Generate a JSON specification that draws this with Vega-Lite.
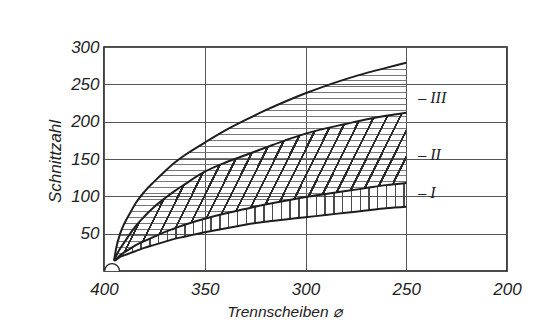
{
  "$schema": "https://vega.github.io/schema/vega-lite/v6.json",
  "width": 403,
  "height": 224,
  "autosize": {"type": "none"},
  "padding": {"left": 104, "top": 47, "right": 29, "bottom": 49},
  "background": "#ffffff",
  "config": {
    "view": {"stroke": "#111111", "strokeWidth": 1.6},
    "axis": {
      "domain": false,
      "ticks": false,
      "tickSize": 0,
      "grid": true,
      "gridColor": "#555555",
      "gridWidth": 1,
      "gridOpacity": 1,
      "labelFont": "Liberation Sans",
      "labelFontStyle": "italic",
      "labelFontSize": 17,
      "labelColor": "#222222",
      "labelFlush": false,
      "labelOverlap": false,
      "titleFont": "Liberation Sans",
      "titleFontStyle": "italic",
      "titleFontWeight": "normal",
      "titleColor": "#222222"
    }
  },
  "datasets": {
    "curves": [
      {"x": 395, "top": 14, "ii": 14, "i": 14, "bot": 14},
      {"x": 394, "top": 30, "ii": 20, "i": 16, "bot": 15},
      {"x": 392, "top": 50, "ii": 30, "i": 21, "bot": 19},
      {"x": 390, "top": 63, "ii": 38, "i": 25, "bot": 21},
      {"x": 387, "top": 78, "ii": 50, "i": 30, "bot": 24},
      {"x": 384, "top": 92, "ii": 61, "i": 35, "bot": 27},
      {"x": 380, "top": 106, "ii": 73, "i": 40, "bot": 31},
      {"x": 375, "top": 120, "ii": 86, "i": 46, "bot": 35},
      {"x": 370, "top": 133, "ii": 97, "i": 52, "bot": 39},
      {"x": 365, "top": 145, "ii": 107, "i": 57, "bot": 43},
      {"x": 360, "top": 155, "ii": 116, "i": 62, "bot": 46},
      {"x": 350, "top": 172, "ii": 133, "i": 70, "bot": 52},
      {"x": 340, "top": 188, "ii": 145, "i": 77, "bot": 57},
      {"x": 330, "top": 202, "ii": 155, "i": 83, "bot": 62},
      {"x": 320, "top": 215, "ii": 165, "i": 89, "bot": 66},
      {"x": 310, "top": 227, "ii": 175, "i": 94, "bot": 69},
      {"x": 300, "top": 238, "ii": 184, "i": 99, "bot": 72},
      {"x": 290, "top": 248, "ii": 191, "i": 103, "bot": 75},
      {"x": 280, "top": 257, "ii": 197, "i": 107, "bot": 78},
      {"x": 270, "top": 265, "ii": 203, "i": 111, "bot": 81},
      {"x": 260, "top": 272, "ii": 208, "i": 115, "bot": 84},
      {"x": 250, "top": 279, "ii": 212, "i": 118, "bot": 86}
    ],
    "labels": [
      {"x": 250, "y": 232, "t": "– III"},
      {"x": 250, "y": 155, "t": "– II"},
      {"x": 250, "y": 105, "t": "– I"}
    ],
    "origin": [{"x": 396, "y": 0}]
  },
  "encoding": {
    "x": {
      "field": "x",
      "type": "quantitative",
      "scale": {"domain": [200, 400], "reverse": true},
      "axis": {
        "values": [400, 350, 300, 250, 200],
        "labelPadding": 10,
        "title": "Trennscheiben ⌀",
        "titleFontSize": 15.5,
        "titleX": 180,
        "titleY": 45,
        "titleAlign": "center",
        "titleBaseline": "alphabetic"
      }
    }
  },
  "layer": [
    {
      "data": {"name": "curves"},
      "mark": {
        "type": "area",
        "interpolate": "monotone",
        "fill": {
          "gradient": "linear", "x1": 0, "y1": 0, "x2": 0, "y2": 1,
          "stops": [
            {"offset": 0.03, "color": "rgba(0,0,0,0)"}, {"offset": 0.03, "color": "#777777"}, {"offset": 0.035, "color": "#777777"}, {"offset": 0.035, "color": "rgba(0,0,0,0)"},
            {"offset": 0.06, "color": "rgba(0,0,0,0)"}, {"offset": 0.06, "color": "#777777"}, {"offset": 0.065, "color": "#777777"}, {"offset": 0.065, "color": "rgba(0,0,0,0)"},
            {"offset": 0.09, "color": "rgba(0,0,0,0)"}, {"offset": 0.09, "color": "#777777"}, {"offset": 0.095, "color": "#777777"}, {"offset": 0.095, "color": "rgba(0,0,0,0)"},
            {"offset": 0.12, "color": "rgba(0,0,0,0)"}, {"offset": 0.12, "color": "#777777"}, {"offset": 0.125, "color": "#777777"}, {"offset": 0.125, "color": "rgba(0,0,0,0)"},
            {"offset": 0.15, "color": "rgba(0,0,0,0)"}, {"offset": 0.15, "color": "#777777"}, {"offset": 0.155, "color": "#777777"}, {"offset": 0.155, "color": "rgba(0,0,0,0)"},
            {"offset": 0.18, "color": "rgba(0,0,0,0)"}, {"offset": 0.18, "color": "#777777"}, {"offset": 0.185, "color": "#777777"}, {"offset": 0.185, "color": "rgba(0,0,0,0)"},
            {"offset": 0.21, "color": "rgba(0,0,0,0)"}, {"offset": 0.21, "color": "#777777"}, {"offset": 0.215, "color": "#777777"}, {"offset": 0.215, "color": "rgba(0,0,0,0)"},
            {"offset": 0.24, "color": "rgba(0,0,0,0)"}, {"offset": 0.24, "color": "#777777"}, {"offset": 0.245, "color": "#777777"}, {"offset": 0.245, "color": "rgba(0,0,0,0)"},
            {"offset": 0.27, "color": "rgba(0,0,0,0)"}, {"offset": 0.27, "color": "#777777"}, {"offset": 0.275, "color": "#777777"}, {"offset": 0.275, "color": "rgba(0,0,0,0)"},
            {"offset": 0.3, "color": "rgba(0,0,0,0)"}, {"offset": 0.3, "color": "#777777"}, {"offset": 0.305, "color": "#777777"}, {"offset": 0.305, "color": "rgba(0,0,0,0)"},
            {"offset": 0.33, "color": "rgba(0,0,0,0)"}, {"offset": 0.33, "color": "#777777"}, {"offset": 0.335, "color": "#777777"}, {"offset": 0.335, "color": "rgba(0,0,0,0)"},
            {"offset": 0.36, "color": "rgba(0,0,0,0)"}, {"offset": 0.36, "color": "#777777"}, {"offset": 0.365, "color": "#777777"}, {"offset": 0.365, "color": "rgba(0,0,0,0)"},
            {"offset": 0.39, "color": "rgba(0,0,0,0)"}, {"offset": 0.39, "color": "#777777"}, {"offset": 0.395, "color": "#777777"}, {"offset": 0.395, "color": "rgba(0,0,0,0)"},
            {"offset": 0.42, "color": "rgba(0,0,0,0)"}, {"offset": 0.42, "color": "#777777"}, {"offset": 0.425, "color": "#777777"}, {"offset": 0.425, "color": "rgba(0,0,0,0)"},
            {"offset": 0.45, "color": "rgba(0,0,0,0)"}, {"offset": 0.45, "color": "#777777"}, {"offset": 0.455, "color": "#777777"}, {"offset": 0.455, "color": "rgba(0,0,0,0)"},
            {"offset": 0.48, "color": "rgba(0,0,0,0)"}, {"offset": 0.48, "color": "#777777"}, {"offset": 0.485, "color": "#777777"}, {"offset": 0.485, "color": "rgba(0,0,0,0)"},
            {"offset": 0.51, "color": "rgba(0,0,0,0)"}, {"offset": 0.51, "color": "#777777"}, {"offset": 0.515, "color": "#777777"}, {"offset": 0.515, "color": "rgba(0,0,0,0)"},
            {"offset": 0.54, "color": "rgba(0,0,0,0)"}, {"offset": 0.54, "color": "#777777"}, {"offset": 0.545, "color": "#777777"}, {"offset": 0.545, "color": "rgba(0,0,0,0)"},
            {"offset": 0.57, "color": "rgba(0,0,0,0)"}, {"offset": 0.57, "color": "#777777"}, {"offset": 0.575, "color": "#777777"}, {"offset": 0.575, "color": "rgba(0,0,0,0)"},
            {"offset": 0.6, "color": "rgba(0,0,0,0)"}, {"offset": 0.6, "color": "#777777"}, {"offset": 0.605, "color": "#777777"}, {"offset": 0.605, "color": "rgba(0,0,0,0)"},
            {"offset": 0.63, "color": "rgba(0,0,0,0)"}, {"offset": 0.63, "color": "#777777"}, {"offset": 0.635, "color": "#777777"}, {"offset": 0.635, "color": "rgba(0,0,0,0)"},
            {"offset": 0.66, "color": "rgba(0,0,0,0)"}, {"offset": 0.66, "color": "#777777"}, {"offset": 0.665, "color": "#777777"}, {"offset": 0.665, "color": "rgba(0,0,0,0)"},
            {"offset": 0.69, "color": "rgba(0,0,0,0)"}, {"offset": 0.69, "color": "#777777"}, {"offset": 0.695, "color": "#777777"}, {"offset": 0.695, "color": "rgba(0,0,0,0)"},
            {"offset": 0.72, "color": "rgba(0,0,0,0)"}, {"offset": 0.72, "color": "#777777"}, {"offset": 0.725, "color": "#777777"}, {"offset": 0.725, "color": "rgba(0,0,0,0)"},
            {"offset": 0.75, "color": "rgba(0,0,0,0)"}, {"offset": 0.75, "color": "#777777"}, {"offset": 0.755, "color": "#777777"}, {"offset": 0.755, "color": "rgba(0,0,0,0)"},
            {"offset": 0.78, "color": "rgba(0,0,0,0)"}, {"offset": 0.78, "color": "#777777"}, {"offset": 0.785, "color": "#777777"}, {"offset": 0.785, "color": "rgba(0,0,0,0)"},
            {"offset": 0.81, "color": "rgba(0,0,0,0)"}, {"offset": 0.81, "color": "#777777"}, {"offset": 0.815, "color": "#777777"}, {"offset": 0.815, "color": "rgba(0,0,0,0)"},
            {"offset": 0.84, "color": "rgba(0,0,0,0)"}, {"offset": 0.84, "color": "#777777"}, {"offset": 0.845, "color": "#777777"}, {"offset": 0.845, "color": "rgba(0,0,0,0)"},
            {"offset": 0.87, "color": "rgba(0,0,0,0)"}, {"offset": 0.87, "color": "#777777"}, {"offset": 0.875, "color": "#777777"}, {"offset": 0.875, "color": "rgba(0,0,0,0)"},
            {"offset": 0.9, "color": "rgba(0,0,0,0)"}, {"offset": 0.9, "color": "#777777"}, {"offset": 0.905, "color": "#777777"}, {"offset": 0.905, "color": "rgba(0,0,0,0)"},
            {"offset": 0.93, "color": "rgba(0,0,0,0)"}, {"offset": 0.93, "color": "#777777"}, {"offset": 0.935, "color": "#777777"}, {"offset": 0.935, "color": "rgba(0,0,0,0)"},
            {"offset": 0.96, "color": "rgba(0,0,0,0)"}, {"offset": 0.96, "color": "#777777"}, {"offset": 0.965, "color": "#777777"}, {"offset": 0.965, "color": "rgba(0,0,0,0)"}
          ]
        }
      },
      "encoding": {
        "y": {
          "field": "top",
          "type": "quantitative",
          "scale": {"domain": [0, 300]},
          "title": "Schnittzahl",
          "axis": {
            "values": [50, 100, 150, 200, 250, 300],
            "labelPadding": 5,
            "titleFontSize": 17,
            "titleAngle": -90,
            "titleX": -44,
            "titleY": 114,
            "titleAlign": "center",
            "titleBaseline": "alphabetic"
          }
        },
        "y2": {"field": "i"}
      }
    },
    {
      "data": {"name": "curves"},
      "mark": {
        "type": "area",
        "interpolate": "monotone",
        "fill": {
          "gradient": "linear", "x1": 0, "y1": 0, "x2": 1.2, "y2": 0.3,
          "stops": [
            {"offset": 0.035, "color": "rgba(0,0,0,0)"}, {"offset": 0.035, "color": "#2a2a2a"}, {"offset": 0.041, "color": "#2a2a2a"}, {"offset": 0.041, "color": "rgba(0,0,0,0)"},
            {"offset": 0.07, "color": "rgba(0,0,0,0)"}, {"offset": 0.07, "color": "#2a2a2a"}, {"offset": 0.076, "color": "#2a2a2a"}, {"offset": 0.076, "color": "rgba(0,0,0,0)"},
            {"offset": 0.105, "color": "rgba(0,0,0,0)"}, {"offset": 0.105, "color": "#2a2a2a"}, {"offset": 0.111, "color": "#2a2a2a"}, {"offset": 0.111, "color": "rgba(0,0,0,0)"},
            {"offset": 0.14, "color": "rgba(0,0,0,0)"}, {"offset": 0.14, "color": "#2a2a2a"}, {"offset": 0.146, "color": "#2a2a2a"}, {"offset": 0.146, "color": "rgba(0,0,0,0)"},
            {"offset": 0.175, "color": "rgba(0,0,0,0)"}, {"offset": 0.175, "color": "#2a2a2a"}, {"offset": 0.181, "color": "#2a2a2a"}, {"offset": 0.181, "color": "rgba(0,0,0,0)"},
            {"offset": 0.21, "color": "rgba(0,0,0,0)"}, {"offset": 0.21, "color": "#2a2a2a"}, {"offset": 0.216, "color": "#2a2a2a"}, {"offset": 0.216, "color": "rgba(0,0,0,0)"},
            {"offset": 0.245, "color": "rgba(0,0,0,0)"}, {"offset": 0.245, "color": "#2a2a2a"}, {"offset": 0.251, "color": "#2a2a2a"}, {"offset": 0.251, "color": "rgba(0,0,0,0)"},
            {"offset": 0.28, "color": "rgba(0,0,0,0)"}, {"offset": 0.28, "color": "#2a2a2a"}, {"offset": 0.286, "color": "#2a2a2a"}, {"offset": 0.286, "color": "rgba(0,0,0,0)"},
            {"offset": 0.315, "color": "rgba(0,0,0,0)"}, {"offset": 0.315, "color": "#2a2a2a"}, {"offset": 0.321, "color": "#2a2a2a"}, {"offset": 0.321, "color": "rgba(0,0,0,0)"},
            {"offset": 0.35, "color": "rgba(0,0,0,0)"}, {"offset": 0.35, "color": "#2a2a2a"}, {"offset": 0.356, "color": "#2a2a2a"}, {"offset": 0.356, "color": "rgba(0,0,0,0)"},
            {"offset": 0.385, "color": "rgba(0,0,0,0)"}, {"offset": 0.385, "color": "#2a2a2a"}, {"offset": 0.391, "color": "#2a2a2a"}, {"offset": 0.391, "color": "rgba(0,0,0,0)"},
            {"offset": 0.42, "color": "rgba(0,0,0,0)"}, {"offset": 0.42, "color": "#2a2a2a"}, {"offset": 0.426, "color": "#2a2a2a"}, {"offset": 0.426, "color": "rgba(0,0,0,0)"},
            {"offset": 0.455, "color": "rgba(0,0,0,0)"}, {"offset": 0.455, "color": "#2a2a2a"}, {"offset": 0.461, "color": "#2a2a2a"}, {"offset": 0.461, "color": "rgba(0,0,0,0)"},
            {"offset": 0.49, "color": "rgba(0,0,0,0)"}, {"offset": 0.49, "color": "#2a2a2a"}, {"offset": 0.496, "color": "#2a2a2a"}, {"offset": 0.496, "color": "rgba(0,0,0,0)"},
            {"offset": 0.525, "color": "rgba(0,0,0,0)"}, {"offset": 0.525, "color": "#2a2a2a"}, {"offset": 0.531, "color": "#2a2a2a"}, {"offset": 0.531, "color": "rgba(0,0,0,0)"},
            {"offset": 0.56, "color": "rgba(0,0,0,0)"}, {"offset": 0.56, "color": "#2a2a2a"}, {"offset": 0.566, "color": "#2a2a2a"}, {"offset": 0.566, "color": "rgba(0,0,0,0)"},
            {"offset": 0.595, "color": "rgba(0,0,0,0)"}, {"offset": 0.595, "color": "#2a2a2a"}, {"offset": 0.601, "color": "#2a2a2a"}, {"offset": 0.601, "color": "rgba(0,0,0,0)"},
            {"offset": 0.63, "color": "rgba(0,0,0,0)"}, {"offset": 0.63, "color": "#2a2a2a"}, {"offset": 0.636, "color": "#2a2a2a"}, {"offset": 0.636, "color": "rgba(0,0,0,0)"},
            {"offset": 0.665, "color": "rgba(0,0,0,0)"}, {"offset": 0.665, "color": "#2a2a2a"}, {"offset": 0.671, "color": "#2a2a2a"}, {"offset": 0.671, "color": "rgba(0,0,0,0)"},
            {"offset": 0.7, "color": "rgba(0,0,0,0)"}, {"offset": 0.7, "color": "#2a2a2a"}, {"offset": 0.706, "color": "#2a2a2a"}, {"offset": 0.706, "color": "rgba(0,0,0,0)"},
            {"offset": 0.735, "color": "rgba(0,0,0,0)"}, {"offset": 0.735, "color": "#2a2a2a"}, {"offset": 0.741, "color": "#2a2a2a"}, {"offset": 0.741, "color": "rgba(0,0,0,0)"},
            {"offset": 0.77, "color": "rgba(0,0,0,0)"}, {"offset": 0.77, "color": "#2a2a2a"}, {"offset": 0.776, "color": "#2a2a2a"}, {"offset": 0.776, "color": "rgba(0,0,0,0)"},
            {"offset": 0.805, "color": "rgba(0,0,0,0)"}, {"offset": 0.805, "color": "#2a2a2a"}, {"offset": 0.811, "color": "#2a2a2a"}, {"offset": 0.811, "color": "rgba(0,0,0,0)"},
            {"offset": 0.84, "color": "rgba(0,0,0,0)"}, {"offset": 0.84, "color": "#2a2a2a"}, {"offset": 0.846, "color": "#2a2a2a"}, {"offset": 0.846, "color": "rgba(0,0,0,0)"},
            {"offset": 0.875, "color": "rgba(0,0,0,0)"}, {"offset": 0.875, "color": "#2a2a2a"}, {"offset": 0.881, "color": "#2a2a2a"}, {"offset": 0.881, "color": "rgba(0,0,0,0)"},
            {"offset": 0.91, "color": "rgba(0,0,0,0)"}, {"offset": 0.91, "color": "#2a2a2a"}, {"offset": 0.916, "color": "#2a2a2a"}, {"offset": 0.916, "color": "rgba(0,0,0,0)"}
          ]
        }
      },
      "encoding": {
        "y": {"field": "ii", "type": "quantitative", "scale": {"domain": [0, 300]}, "title": "Schnittzahl"},
        "y2": {"field": "i"}
      }
    },
    {
      "data": {"name": "curves"},
      "mark": {
        "type": "area",
        "interpolate": "monotone",
        "fill": {
          "gradient": "linear", "x1": 0, "y1": 0, "x2": 1, "y2": 0,
          "stops": [
            {"offset": 0.03, "color": "rgba(0,0,0,0)"}, {"offset": 0.03, "color": "#4a4a4a"}, {"offset": 0.035, "color": "#4a4a4a"}, {"offset": 0.035, "color": "rgba(0,0,0,0)"},
            {"offset": 0.06, "color": "rgba(0,0,0,0)"}, {"offset": 0.06, "color": "#4a4a4a"}, {"offset": 0.065, "color": "#4a4a4a"}, {"offset": 0.065, "color": "rgba(0,0,0,0)"},
            {"offset": 0.09, "color": "rgba(0,0,0,0)"}, {"offset": 0.09, "color": "#4a4a4a"}, {"offset": 0.095, "color": "#4a4a4a"}, {"offset": 0.095, "color": "rgba(0,0,0,0)"},
            {"offset": 0.12, "color": "rgba(0,0,0,0)"}, {"offset": 0.12, "color": "#4a4a4a"}, {"offset": 0.125, "color": "#4a4a4a"}, {"offset": 0.125, "color": "rgba(0,0,0,0)"},
            {"offset": 0.15, "color": "rgba(0,0,0,0)"}, {"offset": 0.15, "color": "#4a4a4a"}, {"offset": 0.155, "color": "#4a4a4a"}, {"offset": 0.155, "color": "rgba(0,0,0,0)"},
            {"offset": 0.18, "color": "rgba(0,0,0,0)"}, {"offset": 0.18, "color": "#4a4a4a"}, {"offset": 0.185, "color": "#4a4a4a"}, {"offset": 0.185, "color": "rgba(0,0,0,0)"},
            {"offset": 0.21, "color": "rgba(0,0,0,0)"}, {"offset": 0.21, "color": "#4a4a4a"}, {"offset": 0.215, "color": "#4a4a4a"}, {"offset": 0.215, "color": "rgba(0,0,0,0)"},
            {"offset": 0.24, "color": "rgba(0,0,0,0)"}, {"offset": 0.24, "color": "#4a4a4a"}, {"offset": 0.245, "color": "#4a4a4a"}, {"offset": 0.245, "color": "rgba(0,0,0,0)"},
            {"offset": 0.27, "color": "rgba(0,0,0,0)"}, {"offset": 0.27, "color": "#4a4a4a"}, {"offset": 0.275, "color": "#4a4a4a"}, {"offset": 0.275, "color": "rgba(0,0,0,0)"},
            {"offset": 0.3, "color": "rgba(0,0,0,0)"}, {"offset": 0.3, "color": "#4a4a4a"}, {"offset": 0.305, "color": "#4a4a4a"}, {"offset": 0.305, "color": "rgba(0,0,0,0)"},
            {"offset": 0.33, "color": "rgba(0,0,0,0)"}, {"offset": 0.33, "color": "#4a4a4a"}, {"offset": 0.335, "color": "#4a4a4a"}, {"offset": 0.335, "color": "rgba(0,0,0,0)"},
            {"offset": 0.36, "color": "rgba(0,0,0,0)"}, {"offset": 0.36, "color": "#4a4a4a"}, {"offset": 0.365, "color": "#4a4a4a"}, {"offset": 0.365, "color": "rgba(0,0,0,0)"},
            {"offset": 0.39, "color": "rgba(0,0,0,0)"}, {"offset": 0.39, "color": "#4a4a4a"}, {"offset": 0.395, "color": "#4a4a4a"}, {"offset": 0.395, "color": "rgba(0,0,0,0)"},
            {"offset": 0.42, "color": "rgba(0,0,0,0)"}, {"offset": 0.42, "color": "#4a4a4a"}, {"offset": 0.425, "color": "#4a4a4a"}, {"offset": 0.425, "color": "rgba(0,0,0,0)"},
            {"offset": 0.45, "color": "rgba(0,0,0,0)"}, {"offset": 0.45, "color": "#4a4a4a"}, {"offset": 0.455, "color": "#4a4a4a"}, {"offset": 0.455, "color": "rgba(0,0,0,0)"},
            {"offset": 0.48, "color": "rgba(0,0,0,0)"}, {"offset": 0.48, "color": "#4a4a4a"}, {"offset": 0.485, "color": "#4a4a4a"}, {"offset": 0.485, "color": "rgba(0,0,0,0)"},
            {"offset": 0.51, "color": "rgba(0,0,0,0)"}, {"offset": 0.51, "color": "#4a4a4a"}, {"offset": 0.515, "color": "#4a4a4a"}, {"offset": 0.515, "color": "rgba(0,0,0,0)"},
            {"offset": 0.54, "color": "rgba(0,0,0,0)"}, {"offset": 0.54, "color": "#4a4a4a"}, {"offset": 0.545, "color": "#4a4a4a"}, {"offset": 0.545, "color": "rgba(0,0,0,0)"},
            {"offset": 0.57, "color": "rgba(0,0,0,0)"}, {"offset": 0.57, "color": "#4a4a4a"}, {"offset": 0.575, "color": "#4a4a4a"}, {"offset": 0.575, "color": "rgba(0,0,0,0)"},
            {"offset": 0.6, "color": "rgba(0,0,0,0)"}, {"offset": 0.6, "color": "#4a4a4a"}, {"offset": 0.605, "color": "#4a4a4a"}, {"offset": 0.605, "color": "rgba(0,0,0,0)"},
            {"offset": 0.63, "color": "rgba(0,0,0,0)"}, {"offset": 0.63, "color": "#4a4a4a"}, {"offset": 0.635, "color": "#4a4a4a"}, {"offset": 0.635, "color": "rgba(0,0,0,0)"},
            {"offset": 0.66, "color": "rgba(0,0,0,0)"}, {"offset": 0.66, "color": "#4a4a4a"}, {"offset": 0.665, "color": "#4a4a4a"}, {"offset": 0.665, "color": "rgba(0,0,0,0)"},
            {"offset": 0.69, "color": "rgba(0,0,0,0)"}, {"offset": 0.69, "color": "#4a4a4a"}, {"offset": 0.695, "color": "#4a4a4a"}, {"offset": 0.695, "color": "rgba(0,0,0,0)"},
            {"offset": 0.72, "color": "rgba(0,0,0,0)"}, {"offset": 0.72, "color": "#4a4a4a"}, {"offset": 0.725, "color": "#4a4a4a"}, {"offset": 0.725, "color": "rgba(0,0,0,0)"},
            {"offset": 0.75, "color": "rgba(0,0,0,0)"}, {"offset": 0.75, "color": "#4a4a4a"}, {"offset": 0.755, "color": "#4a4a4a"}, {"offset": 0.755, "color": "rgba(0,0,0,0)"},
            {"offset": 0.78, "color": "rgba(0,0,0,0)"}, {"offset": 0.78, "color": "#4a4a4a"}, {"offset": 0.785, "color": "#4a4a4a"}, {"offset": 0.785, "color": "rgba(0,0,0,0)"},
            {"offset": 0.81, "color": "rgba(0,0,0,0)"}, {"offset": 0.81, "color": "#4a4a4a"}, {"offset": 0.815, "color": "#4a4a4a"}, {"offset": 0.815, "color": "rgba(0,0,0,0)"},
            {"offset": 0.84, "color": "rgba(0,0,0,0)"}, {"offset": 0.84, "color": "#4a4a4a"}, {"offset": 0.845, "color": "#4a4a4a"}, {"offset": 0.845, "color": "rgba(0,0,0,0)"},
            {"offset": 0.87, "color": "rgba(0,0,0,0)"}, {"offset": 0.87, "color": "#4a4a4a"}, {"offset": 0.875, "color": "#4a4a4a"}, {"offset": 0.875, "color": "rgba(0,0,0,0)"},
            {"offset": 0.9, "color": "rgba(0,0,0,0)"}, {"offset": 0.9, "color": "#4a4a4a"}, {"offset": 0.905, "color": "#4a4a4a"}, {"offset": 0.905, "color": "rgba(0,0,0,0)"},
            {"offset": 0.93, "color": "rgba(0,0,0,0)"}, {"offset": 0.93, "color": "#4a4a4a"}, {"offset": 0.935, "color": "#4a4a4a"}, {"offset": 0.935, "color": "rgba(0,0,0,0)"},
            {"offset": 0.96, "color": "rgba(0,0,0,0)"}, {"offset": 0.96, "color": "#4a4a4a"}, {"offset": 0.965, "color": "#4a4a4a"}, {"offset": 0.965, "color": "rgba(0,0,0,0)"},
            {"offset": 0.99, "color": "rgba(0,0,0,0)"}, {"offset": 0.99, "color": "#4a4a4a"}, {"offset": 0.995, "color": "#4a4a4a"}, {"offset": 0.995, "color": "rgba(0,0,0,0)"}
          ]
        }
      },
      "encoding": {
        "y": {"field": "i", "type": "quantitative", "scale": {"domain": [0, 300]}, "title": "Schnittzahl"},
        "y2": {"field": "bot"}
      }
    },
    {
      "data": {"name": "curves"},
      "mark": {"type": "line", "interpolate": "monotone", "color": "#1e1e1e", "strokeWidth": 2},
      "encoding": {"y": {"field": "top", "type": "quantitative", "scale": {"domain": [0, 300]}, "title": "Schnittzahl"}}
    },
    {
      "data": {"name": "curves"},
      "mark": {"type": "line", "interpolate": "monotone", "color": "#1e1e1e", "strokeWidth": 2},
      "encoding": {"y": {"field": "ii", "type": "quantitative", "scale": {"domain": [0, 300]}, "title": "Schnittzahl"}}
    },
    {
      "data": {"name": "curves"},
      "mark": {"type": "line", "interpolate": "monotone", "color": "#1e1e1e", "strokeWidth": 2},
      "encoding": {"y": {"field": "i", "type": "quantitative", "scale": {"domain": [0, 300]}, "title": "Schnittzahl"}}
    },
    {
      "data": {"name": "curves"},
      "mark": {"type": "line", "interpolate": "monotone", "color": "#1e1e1e", "strokeWidth": 2},
      "encoding": {"y": {"field": "bot", "type": "quantitative", "scale": {"domain": [0, 300]}, "title": "Schnittzahl"}}
    },
    {
      "data": {"name": "origin"},
      "mark": {"type": "point", "shape": "circle", "size": 220, "filled": true, "fill": "#ffffff", "stroke": "#222222", "strokeWidth": 1.2, "opacity": 1, "clip": true},
      "encoding": {"y": {"field": "y", "type": "quantitative", "scale": {"domain": [0, 300]}, "title": "Schnittzahl"}}
    },
    {
      "data": {"name": "labels"},
      "mark": {"type": "text", "align": "left", "baseline": "middle", "dx": 12, "font": "Liberation Serif", "fontStyle": "italic", "fontSize": 16, "color": "#222222"},
      "encoding": {
        "y": {"field": "y", "type": "quantitative", "scale": {"domain": [0, 300]}, "title": "Schnittzahl"},
        "text": {"field": "t"}
      }
    }
  ]
}
